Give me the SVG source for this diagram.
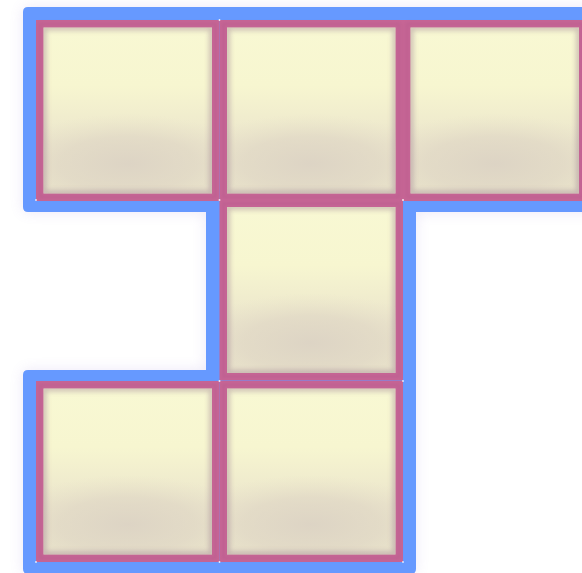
<svg xmlns="http://www.w3.org/2000/svg" xmlns:xlink="http://www.w3.org/1999/xlink" width="582" height="573" viewBox="0 0 582 573">
  <style>
    .frame { fill: #6699ff; }
    .glow { fill: #8a70d0; opacity: 0.16; }
    .pink { fill: #c66595; }
    .dot { fill: #ffffff; opacity: 0.85; }
  </style>
  <defs>
    <filter id="blurOut" x="-20%" y="-20%" width="140%" height="140%">
      <feGaussianBlur stdDeviation="7"/>
    </filter>
    <filter id="blurIn" x="-10%" y="-10%" width="120%" height="120%">
      <feGaussianBlur stdDeviation="2.6"/>
    </filter>
    <filter id="blurEdge" x="-10%" y="-10%" width="120%" height="120%">
      <feGaussianBlur stdDeviation="1.5"/>
    </filter>
    <linearGradient id="lin" x1="0" y1="0" x2="0" y2="1">
      <stop offset="0" stop-color="#f8f8d3"/>
      <stop offset="0.35" stop-color="#f7f6d0"/>
      <stop offset="0.7" stop-color="#ebe5cc"/>
      <stop offset="1" stop-color="#e9e3cb"/>
    </linearGradient>
    <radialGradient id="rad" cx="0.5" cy="0.82" r="0.5" fx="0.5" fy="0.82" gradientTransform="translate(0.5 0.82) scale(1.5 0.6) translate(-0.5 -0.82)">
      <stop offset="0" stop-color="#dcd3c4" stop-opacity="0.95"/>
      <stop offset="0.55" stop-color="#ded5c4" stop-opacity="0.6"/>
      <stop offset="1" stop-color="#e6dfc8" stop-opacity="0"/>
    </radialGradient>
    <clipPath id="innerClip">
      <rect x="7.5" y="7.5" width="168.5" height="166"/>
    </clipPath>
    <g id="cell">
      <rect class="pink" x="0" y="0" width="183.5" height="181"/>
      <rect x="4" y="4" width="175.5" height="173" fill="none" stroke="#b55a8c" stroke-width="3" opacity="0.4" filter="url(#blurEdge)"/>
      <rect x="7.5" y="7.5" width="168.5" height="166" fill="url(#lin)"/>
      <rect x="7.5" y="7.5" width="168.5" height="166" fill="url(#rad)"/>
      <g clip-path="url(#innerClip)">
        <rect x="7.5" y="7.5" width="168.5" height="166" fill="none" stroke="#9c8090" stroke-width="6" opacity="0.45" filter="url(#blurIn)"/>
      </g>
    </g>
  </defs>

  <g id="frame">
    <path class="glow" filter="url(#blurOut)" d="M28,7 H600 V212 H416 V569 Q416,574 411,574 H28 Q23,574 23,569 V375 Q23,370 28,370 H206 V212 H28 Q23,212 23,207 V12 Q23,7 28,7 Z"/>
    <path class="frame" d="M28,7 H600 V212 H416 V569 Q416,574 411,574 H28 Q23,574 23,569 V375 Q23,370 28,370 H206 V212 H28 Q23,212 23,207 V12 Q23,7 28,7 Z"/>
  </g>

  <g id="cell-r1c1"><use xlink:href="#cell" x="36" y="20"/></g>
  <g id="cell-r1c2"><use xlink:href="#cell" x="219.5" y="20"/></g>
  <g id="cell-r1c3"><use xlink:href="#cell" x="403" y="20"/></g>
  <g id="cell-r2c2"><use xlink:href="#cell" x="219.5" y="199.5"/></g>
  <g id="cell-r3c1"><use xlink:href="#cell" x="36" y="381"/></g>
  <g id="cell-r3c2"><use xlink:href="#cell" x="219.5" y="381"/></g>

  <g id="junctions">
    <circle class="dot" cx="219.5" cy="20" r="0.9"/>
    <circle class="dot" cx="36" cy="200" r="0.9"/>
    <circle class="dot" cx="219.5" cy="200" r="1"/>
    <circle class="dot" cx="403" cy="200" r="1"/>
    <circle class="dot" cx="219.5" cy="381" r="1"/>
    <circle class="dot" cx="403" cy="381" r="0.9"/>
    <circle class="dot" cx="36" cy="562" r="0.9"/>
    <circle class="dot" cx="219.5" cy="562" r="0.9"/>
    <circle class="dot" cx="403" cy="562" r="0.9"/>
  </g>
</svg>
